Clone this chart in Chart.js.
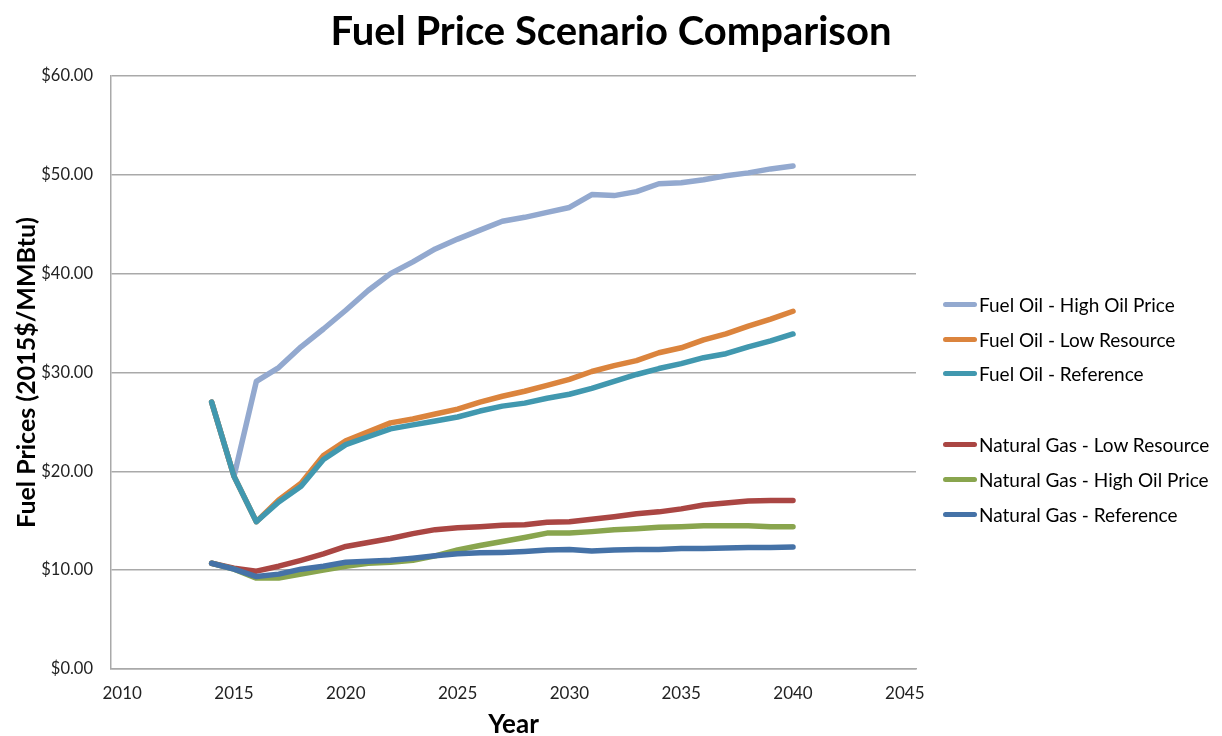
<!DOCTYPE html>
<html>
<head>
<meta charset="utf-8">
<script src="https://cdn.jsdelivr.net/npm/chart.js@4/dist/chart.umd.min.js"></script>
<style>
  html, body { margin: 0; padding: 0; background: #fff; }
  #wrap { position: relative; width: 1222px; height: 736px; }
  #legend { position: absolute; left: 943px; top: 0; font-family: Lato, "Open Sans", sans-serif; font-size: 19px; color: #000; }
  .item { position: absolute; left: 0; white-space: nowrap; display: flex; align-items: center; height: 22px; }
  .swatch { width: 34px; height: 5px; border-radius: 3px; margin-right: 2px; }
</style>
</head>
<body>
<div id="wrap">
  <canvas id="c" width="1222" height="736"></canvas>
  <div id="legend"></div>
</div>
<script>
const years = [2014,2015,2016,2017,2018,2019,2020,2021,2022,2023,2024,2025,2026,2027,2028,2029,2030,2031,2032,2033,2034,2035,2036,2037,2038,2039,2040];
const xTickLabels = [2010,2015,2020,2025,2030,2035,2040,2045];
const yTickValues = [0,10,20,30,40,50,60];

const foHighOil = [27.0,19.5,29.1,30.5,32.6,34.4,36.3,38.3,40.0,41.2,42.5,43.5,44.4,45.3,45.7,46.2,46.7,48.0,47.9,48.3,49.1,49.2,49.5,49.9,50.2,50.6,50.9];
const foLowRes  = [27.0,19.5,14.9,17.1,18.8,21.6,23.1,24.0,24.9,25.3,25.8,26.3,27.0,27.6,28.1,28.7,29.3,30.1,30.7,31.2,32.0,32.5,33.3,33.9,34.7,35.4,36.2];
const foRef     = [27.0,19.5,14.9,16.9,18.5,21.2,22.7,23.5,24.3,24.7,25.1,25.5,26.1,26.6,26.9,27.4,27.8,28.4,29.1,29.8,30.4,30.9,31.5,31.9,32.6,33.2,33.9];
const ngLowRes  = [10.7,10.2,9.9,10.4,11.0,11.65,12.4,12.8,13.2,13.7,14.1,14.3,14.4,14.55,14.6,14.85,14.9,15.15,15.4,15.7,15.9,16.2,16.6,16.8,17.0,17.05,17.05];
const ngHighOil = [10.7,10.1,9.2,9.2,9.6,10.0,10.4,10.7,10.8,11.0,11.45,12.05,12.5,12.9,13.3,13.75,13.75,13.9,14.1,14.2,14.35,14.4,14.5,14.5,14.5,14.4,14.4];
const ngRef     = [10.7,10.1,9.35,9.6,10.1,10.4,10.8,10.9,11.0,11.2,11.45,11.65,11.75,11.8,11.9,12.05,12.1,11.95,12.05,12.1,12.1,12.2,12.2,12.25,12.3,12.3,12.35];

const seriesNames = ["Fuel Oil - High Oil Price","Fuel Oil - Low Resource","Fuel Oil - Reference","Natural Gas - Low Resource","Natural Gas - High Oil Price","Natural Gas - Reference"];
const seriesValues = [foHighOil, foLowRes, foRef, ngLowRes, ngHighOil, ngRef];
const seriesColors = ["#93A9CF","#DB843D","#4198AF","#AA4643","#89A54E","#4572A7"];
const legendRowsY = [304, 339, 373, 444, 479, 514];

const FONT = "Lato, 'Open Sans', sans-serif";
const GRID = "#a9a9a9";

const datasets = seriesValues.map((vals, i) => ({
  label: seriesNames[i],
  data: years.map((yr, j) => ({x: yr, y: vals[j]})),
  borderColor: seriesColors[i],
  backgroundColor: seriesColors[i],
  borderWidth: 5.5,
  pointRadius: 0,
  tension: 0,
  fill: false,
  borderCapStyle: 'round',
  borderJoinStyle: 'round',
  order: 10 - i
}));

new Chart(document.getElementById('c'), {
  type: 'line',
  data: { datasets },
  options: {
    responsive: false,
    animation: false,
    layout: { padding: 0 },
    plugins: {
      legend: { display: false },
      tooltip: { enabled: false },
      title: {
        display: true,
        text: 'Fuel Price Scenario Comparison',
        color: '#000',
        font: { family: FONT, size: 40, weight: 'bold', lineHeight: 1.2 },
        padding: { top: 8, bottom: 20 }
      }
    },
    scales: {
      x: {
        type: 'linear',
        min: 2009.5,
        max: 2045.5,
        afterBuildTicks: (s) => { s.ticks = xTickLabels.map(v => ({value: v})); },
        afterFit: (s) => { s.height = 67; },
        grid: { display: false, drawTicks: false },
        border: { display: true, color: GRID, width: 1.5 },
        ticks: { color: '#222', font: { family: FONT, size: 17 }, padding: 14, maxRotation: 0, autoSkip: false, callback: v => String(v) },
        title: { display: true, text: 'Year', color: '#000', font: { family: FONT, size: 26, weight: 'bold', lineHeight: 0.85 }, padding: { top: 0, bottom: 0 } }
      },
      y: {
        type: 'linear',
        min: 0,
        max: 60,
        afterBuildTicks: (s) => { s.ticks = yTickValues.map(v => ({value: v})); },
        afterFit: (s) => { s.width = 111; },
        grid: { color: GRID, lineWidth: 1.5, drawTicks: false },
        border: { display: true, color: GRID, width: 1.5 },
        ticks: { color: '#222', font: { family: FONT, size: 16.5 }, padding: 18, callback: v => '$' + Number(v).toFixed(2) },
        title: { display: true, text: 'Fuel Prices (2015$/MMBtu)', color: '#000', font: { family: FONT, size: 25, weight: 'bold', lineHeight: 1 }, padding: { top: 14.5, bottom: 0 } }
      },
      pad: {
        type: 'linear',
        position: 'right',
        display: true,
        grid: { display: false, drawTicks: false },
        border: { display: false },
        ticks: { display: false },
        afterFit: (s) => { s.width = 306; }
      }
    }
  }
});

const legend = document.getElementById('legend');
seriesNames.forEach((name, i) => {
  const row = document.createElement('div');
  row.className = 'item';
  row.style.top = (legendRowsY[i] - 11) + 'px';
  const sw = document.createElement('span');
  sw.className = 'swatch';
  sw.style.background = seriesColors[i];
  const tx = document.createElement('span');
  tx.textContent = name;
  row.appendChild(sw);
  row.appendChild(tx);
  legend.appendChild(row);
});
</script>
</body>
</html>
